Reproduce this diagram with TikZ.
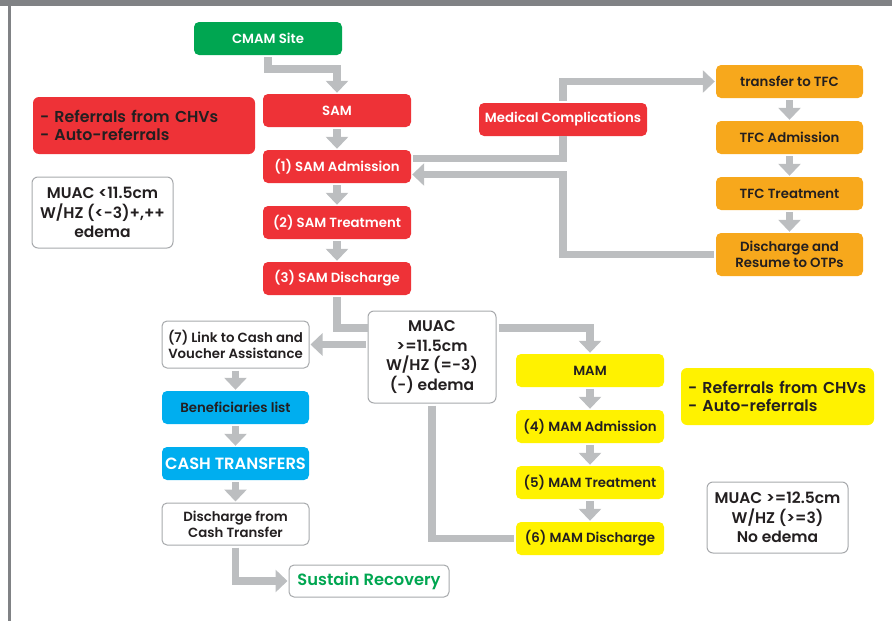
\documentclass[tikz,border=0pt]{standalone}
\usepackage{fontspec}
\setmainfont{Poppins}[BoldFont={Poppins SemiBold}]
\usetikzlibrary{arrows.meta}

\definecolor{cmamgreen}{HTML}{00A651}
\definecolor{samred}{HTML}{EE3237}
\definecolor{tfcorange}{HTML}{F7A81C}
\definecolor{mamyellow}{HTML}{FFF200}
\definecolor{cashblue}{HTML}{00AEEF}
\definecolor{flowgray}{HTML}{BCBEC0}
\definecolor{framegray}{HTML}{808285}
\definecolor{boxgray}{HTML}{A7A9AC}
\definecolor{ink}{HTML}{231F20}

\begin{document}
\begin{tikzpicture}[x=1pt,y=-1pt,
  box/.style={rounded corners=5pt, minimum width=148pt, minimum height=33pt, inner sep=0pt, align=center, text=ink,
    font=\bfseries\fontsize{13.3}{16}\selectfont},
  greenbox/.style={box, fill=cmamgreen, text=white},
  redbox/.style={box, fill=samred, text=white},
  orangebox/.style={box, fill=tfcorange, minimum width=147pt},
  yellowbox/.style={box, fill=mamyellow},
  bluebox/.style={box, fill=cashblue, minimum width=147pt},
  whitebox/.style={box, draw=boxgray, line width=1pt, fill=white, minimum width=147pt},
  notebox/.style={rounded corners=6pt, inner xsep=7pt, inner ysep=0pt, align=left, text=ink,
    font=\bfseries\fontsize{15.8}{17.6}\selectfont},
  critbox/.style={rounded corners=6pt, draw=boxgray, line width=1pt, fill=white, inner sep=0pt, align=center, text=ink,
    font=\bfseries\fontsize{15.5}{19.5}\selectfont},
  flow/.style={draw=flowgray, line width=7.5pt, -{Triangle[width=22pt,length=12pt]}, shorten >=1pt, shorten <=2pt},
  flowline/.style={draw=flowgray, line width=7.5pt, shorten <=2pt}]

\useasboundingbox (0,0) rectangle (892,621);
\fill[framegray] (0,0) rectangle (892,6);
\fill[framegray] (8,6) rectangle (11,621);

\node[greenbox] (cmam) at (268,38.5) {CMAM Site};
\node[redbox] (sam) at (337,110.5) {SAM};
\node[redbox] (adm) at (337,166.5) {(1) SAM Admission};
\node[redbox] (trt) at (337,222.5) {(2) SAM Treatment};
\node[redbox] (dis) at (337,278.5) {(3) SAM Discharge};

\node[notebox, fill=samred, minimum height=57pt, text width=208pt] (refa) at (144,125.5) {\mbox{- Referrals from CHVs}\\- Auto-referrals};
\node[critbox, minimum width=141pt, minimum height=71pt] (muaca) at (102.5,212.5) {MUAC <11.5cm\\W/HZ (<-3)+,++\\edema};

\node[redbox, minimum width=168pt] (medc) at (563,119.5) {Medical Complications};
\node[orangebox] (tfca) at (789.5,81.5) {transfer to TFC};
\node[orangebox] (tfcb) at (789.5,137.5) {TFC Admission};
\node[orangebox] (tfcc) at (789.5,193.5) {TFC Treatment};
\node[orangebox, minimum height=43pt] (tfcd) at (789.5,254.5) {Discharge and\\Resume to OTPs};

\node[critbox, minimum width=128pt, minimum height=92pt] (muacb) at (432,357) {MUAC\\>=11.5cm\\W/HZ (=-3)\\(-) edema};

\node[whitebox, minimum height=47pt] (link) at (235.5,344.5) {(7) Link to Cash and\\Voucher Assistance};
\node[bluebox] (bene) at (235.5,407.5) {Beneficiaries list};
\node[bluebox, text=white, font=\bfseries\fontsize{16.3}{18}\selectfont] (cash) at (235.5,463.5) {CASH TRANSFERS};
\node[whitebox, minimum height=42pt] (cdis) at (235.5,524) {Discharge from\\Cash Transfer};
\node[whitebox, minimum width=160pt, minimum height=32pt, text=cmamgreen, font=\bfseries\fontsize{16.3}{18}\selectfont] (sust) at (369,581) {Sustain Recovery};

\node[yellowbox] (mam) at (590,370.5) {MAM};
\node[yellowbox] (mama) at (590,426.5) {(4) MAM Admission};
\node[yellowbox] (mamb) at (590,482.5) {(5) MAM Treatment};
\node[yellowbox] (mamc) at (590,538.5) {(6) MAM Discharge};

\node[notebox, fill=mamyellow, minimum height=57pt, text width=179pt] (refb) at (777.5,396.5) {\mbox{- Referrals from CHVs}\\- Auto-referrals};
\node[critbox, minimum width=141pt, minimum height=71pt] (muacc) at (777.5,517.5) {MUAC >=12.5cm\\W/HZ (>=3)\\No edema};

\draw[flow] (cmam.south) -- ++(0,14) -| (sam.north);
\draw[flow] (sam) -- (adm);
\draw[flow] (adm) -- (trt);
\draw[flow] (trt) -- (dis);

\draw[flowline] ([yshift=8pt]adm.east) -| (medc.south);
\draw[flow] (medc.north) |- (tfca.west);
\draw[flow] (tfca) -- (tfcb);
\draw[flow] (tfcb) -- (tfcc);
\draw[flow] (tfcc) -- (tfcd);
\draw[flow] (tfcd.west) -- (tfcd.west -| medc.south) |- ([yshift=-8pt]adm.east);

\draw[flowline] (dis.south) |- ([yshift=29pt]muacb.west);
\draw[flow] (link.east -| muacb.west) -- (link.east);
\draw[flow] ([yshift=29pt]muacb.east) -| (mam.north);
\draw[flowline, shorten >=2pt] (muacb.south) |- (mamc.west);

\draw[flow] (link) -- (bene);
\draw[flow] (bene) -- (cash);
\draw[flow] (cash) -- (cdis);
\draw[flow] (cdis.south) |- (sust.west);

\draw[flow] (mam) -- (mama);
\draw[flow] (mama) -- (mamb);
\draw[flow] (mamb) -- (mamc);
\end{tikzpicture}
\end{document}
